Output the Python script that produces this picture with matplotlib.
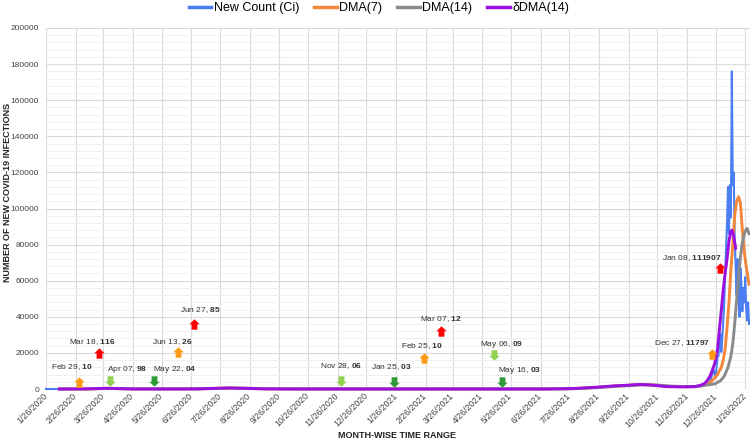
import matplotlib
matplotlib.use("Agg")
import matplotlib.pyplot as plt
from matplotlib.path import Path
from matplotlib.lines import Line2D
from matplotlib.ticker import MultipleLocator
import pandas as pd

plt.rcParams['font.family'] = ['Liberation Sans', 'DejaVu Sans']
plt.rcParams['mathtext.fontset'] = 'custom'
plt.rcParams['mathtext.rm'] = 'Liberation Sans'
plt.rcParams['mathtext.bf'] = 'Liberation Sans:bold'

# ---- data ----
# New Count (Ci)
count_dates = ['2020-01-26', '2020-02-15', '2020-02-29', '2020-03-10', '2020-03-18', '2020-03-25',
               '2020-03-28', '2020-04-02', '2020-04-07', '2020-04-20', '2020-05-22', '2020-06-13',
               '2020-06-27', '2020-07-10', '2020-07-25', '2020-08-05', '2020-08-15', '2020-08-30',
               '2020-09-15', '2020-10-15', '2020-11-28', '2020-12-20', '2021-01-25', '2021-02-25',
               '2021-03-07', '2021-05-06', '2021-05-16', '2021-06-30', '2021-07-15', '2021-08-01',
               '2021-08-24', '2021-09-10', '2021-09-25', '2021-10-08', '2021-10-20', '2021-11-07',
               '2021-11-20', '2021-12-04', '2021-12-08', '2021-12-12', '2021-12-14', '2021-12-16',
               '2021-12-18', '2021-12-19', '2021-12-20', '2021-12-21', '2021-12-22', '2021-12-23',
               '2021-12-24', '2021-12-25', '2021-12-26', '2021-12-27', '2021-12-28', '2021-12-29',
               '2021-12-30', '2021-12-31', '2022-01-01', '2022-01-02', '2022-01-03', '2022-01-04',
               '2022-01-05', '2022-01-06', '2022-01-07', '2022-01-08', '2022-01-09', '2022-01-10',
               '2022-01-11', '2022-01-12', '2022-01-13', '2022-01-14', '2022-01-15', '2022-01-16',
               '2022-01-17', '2022-01-18', '2022-01-19', '2022-01-20', '2022-01-21', '2022-01-22',
               '2022-01-23', '2022-01-24', '2022-01-25', '2022-01-26', '2022-01-27', '2022-01-28',
               '2022-01-29', '2022-01-30']
count_vals = [0, 0, 10, 40, 116, 400,
              460, 300, 98, 20, 4, 26,
              85, 200, 450, 680, 400, 150,
              40, 15, 6, 20, 3, 10,
              12, 9, 3, 30, 100, 300,
              1000, 1700, 2100, 2600, 2200, 1300,
              1200, 1300, 1700, 2200, 2600, 3400,
              4300, 4100, 3600, 5700, 7200, 8900,
              10500, 8400, 6800, 11797, 17800, 18200,
              27000, 30500, 20500, 28000, 37000, 47000,
              64000, 78000, 92000, 111907, 86000, 113000,
              95000, 176000, 113000, 120000, 83000, 69000,
              52000, 72000, 58000, 40000, 67000, 58000,
              43000, 56000, 48000, 62000, 45000, 38000,
              48000, 36000]

# DMA(7)
dma7_dates = ['2020-02-09', '2020-03-01', '2020-03-15', '2020-03-25', '2020-04-01', '2020-04-10',
              '2020-04-25', '2020-06-01', '2020-07-01', '2020-07-20', '2020-08-05', '2020-08-20',
              '2020-09-10', '2020-10-15', '2021-01-01', '2021-06-30', '2021-07-20', '2021-08-01',
              '2021-08-24', '2021-09-10', '2021-09-25', '2021-10-10', '2021-10-22', '2021-11-08',
              '2021-11-22', '2021-12-04', '2021-12-10', '2021-12-15', '2021-12-20', '2021-12-24',
              '2021-12-28', '2022-01-01', '2022-01-03', '2022-01-05', '2022-01-07', '2022-01-09',
              '2022-01-11', '2022-01-13', '2022-01-15', '2022-01-17', '2022-01-19', '2022-01-21',
              '2022-01-23', '2022-01-25', '2022-01-27', '2022-01-30']
dma7_vals = [0, 5, 60, 300, 380, 150,
             20, 10, 60, 350, 580, 350,
             60, 15, 15, 20, 120, 250,
             900, 1600, 2000, 2450, 2150, 1400,
             1250, 1350, 1700, 2400, 3500, 5500,
             8000, 12000, 16000, 22000, 34000, 48000,
             66000, 80000, 96000, 104000, 106500, 103000,
             88000, 76000, 68000, 58000]

# DMA(14)
dma14_dates = ['2020-02-09', '2020-03-10', '2020-03-25', '2020-04-05', '2020-04-15', '2020-05-01',
               '2020-07-01', '2020-07-25', '2020-08-10', '2020-08-25', '2020-09-15', '2020-10-20',
               '2021-06-30', '2021-07-25', '2021-08-05', '2021-08-28', '2021-09-14', '2021-09-30',
               '2021-10-12', '2021-10-26', '2021-11-10', '2021-11-25', '2021-12-06', '2021-12-15',
               '2021-12-25', '2021-12-31', '2022-01-04', '2022-01-08', '2022-01-11', '2022-01-13',
               '2022-01-15', '2022-01-17', '2022-01-19', '2022-01-21', '2022-01-23', '2022-01-25',
               '2022-01-27', '2022-01-28', '2022-01-30']
dma14_vals = [0, 20, 200, 330, 200, 40,
              40, 300, 520, 400, 120, 20,
              20, 100, 250, 850, 1500, 1950,
              2350, 2200, 1600, 1300, 1300, 2000,
              2800, 4500, 7000, 12000, 18000, 25000,
              36000, 49000, 62000, 73000, 81000, 86000,
              88500, 89000, 86000]

# δDMA(14)
ddma14_dates = ['2020-02-09', '2020-03-05', '2020-03-20', '2020-03-30', '2020-04-10', '2020-04-25',
                '2020-07-01', '2020-07-20', '2020-08-03', '2020-08-20', '2020-09-10', '2020-10-15',
                '2021-06-30', '2021-07-20', '2021-08-01', '2021-08-24', '2021-09-10', '2021-09-25',
                '2021-10-06', '2021-10-20', '2021-11-05', '2021-11-20', '2021-12-04', '2021-12-10',
                '2021-12-14', '2021-12-17', '2021-12-20', '2021-12-22', '2021-12-25', '2021-12-28',
                '2021-12-31', '2022-01-03', '2022-01-05', '2022-01-07', '2022-01-09', '2022-01-11',
                '2022-01-12', '2022-01-13', '2022-01-14', '2022-01-16']
ddma14_vals = [0, 30, 250, 400, 250, 30,
               50, 350, 560, 380, 80, 15,
               20, 150, 300, 1000, 1700, 2100,
               2500, 2200, 1300, 1200, 1300, 2000,
               2900, 4500, 7000, 9500, 14000, 22000,
               38000, 55000, 64000, 72000, 82000, 87500,
               88000, 87000, 84500, 78000]

# annotations: label date, value, arrow date, arrow height, direction, colour
note_labels = ['Feb 29', 'Mar 18', 'Apr 07', 'May 22', 'Jun 13', 'Jun 27', 'Nov 28',
               'Jan 25', 'Feb 25', 'Mar 07', 'May 06', 'May 16', 'Dec 27', 'Jan 08']
note_values = ['10', '116', '98', '04', '26', '85', '06',
               '03', '10', '12', '09', '03', '11797', '111907']
note_kinds = ['orange', 'red', 'lgreen', 'dgreen', 'orange', 'red', 'lgreen',
              'dgreen', 'orange', 'red', 'lgreen', 'dgreen', 'orange', 'red']
note_dirs = ['up', 'up', 'down', 'down', 'up', 'up', 'down',
             'down', 'up', 'up', 'down', 'down', 'up', 'up']

# arrow anchor (date, y) and text offset in px -- layout only
note_at = [('2020-03-01', 3800), ('2020-03-21', 19900), ('2020-04-02', 4400), ('2020-05-18', 4400),
           ('2020-06-12', 20500), ('2020-06-29', 36000), ('2020-11-29', 4400), ('2021-01-24', 3900),
           ('2021-02-24', 17000), ('2021-03-14', 32000), ('2021-05-08', 19000), ('2021-05-17', 3900),
           ('2021-12-22', 19400), ('2021-12-31', 67000)]
note_off = [(-8, 15), (-6, 11), (17, 12), (21, 12), (-6, 10), (6, 14), (0, 15),
            (-3, 15), (-2, 12), (0, 12), (8, 10), (17, 11), (-30, 11), (-29, 10)]

arrow_colors = {'orange': '#FF9A16', 'red': '#FF0000', 'lgreen': '#92D050', 'dgreen': '#2E9B36'}

# ---- figure ----
W, H = 750, 441
fig = plt.figure(figsize=(7.5, 4.41), dpi=100)
ax = fig.add_axes([46 / W, 1 - 389 / H, (750 - 46) / W, (389 - 28) / H])

c_blue, c_orange, c_gray, c_purple = '#4A7EF2', '#F5873A', '#8A8A8A', '#9B0FE0'

ax.plot(pd.to_datetime(count_dates), count_vals, color=c_blue, lw=1.5, clip_on=False, zorder=3)
ax.plot(pd.to_datetime(dma7_dates), dma7_vals, color=c_orange, lw=2.1, clip_on=False, zorder=3)
ax.plot(pd.to_datetime(dma14_dates), dma14_vals, color=c_gray, lw=2.1, clip_on=False, zorder=3)
ax.plot(pd.to_datetime(ddma14_dates), ddma14_vals, color=c_purple, lw=2.1, clip_on=False, zorder=3)

# block arrow markers
up = Path([(-0.28, -0.5), (0.28, -0.5), (0.28, 0.02), (0.5, 0.02), (0, 0.5),
           (-0.5, 0.02), (-0.28, 0.02), (-0.28, -0.5)], closed=True)
down = Path([(x, -y) for x, y in up.vertices], closed=True)

for i in range(len(note_labels)):
    d = pd.Timestamp(note_at[i][0])
    y = note_at[i][1]
    mk = up if note_dirs[i] == 'up' else down
    ax.plot([d], [y], marker=mk, ms=7.5, color=arrow_colors[note_kinds[i]],
            mec='none', zorder=5, clip_on=False)
    ax.annotate(note_labels[i] + ', $\\mathbf{' + note_values[i] + '}$', xy=(d, y),
                xytext=(note_off[i][0] * 0.72, note_off[i][1] * 0.72), textcoords='offset points',
                ha='center', va='center', fontsize=6, color='#333333', zorder=6)

# axes styling
ticks = pd.date_range('2020-01-26', periods=25, freq=pd.DateOffset(months=1))
ax.set_xticks(ticks)
ax.set_xticklabels([f'{t.month}/{t.day}/{t.year}' for t in ticks], rotation=45,
                   ha='right', va='center', rotation_mode='anchor', fontsize=6.3, color='#444444')
ax.set_xlim(pd.Timestamp('2020-01-26'), pd.Timestamp('2022-01-31'))
ax.set_ylim(0, 200000)
ax.yaxis.set_major_locator(MultipleLocator(20000))
ax.yaxis.set_minor_locator(MultipleLocator(4000))
ax.set_yticklabels([f'{int(v)}' for v in ax.get_yticks()], fontsize=6, color='#444444')
ax.tick_params(which='both', length=0)
ax.tick_params(axis='x', pad=4)
ax.tick_params(axis='y', pad=5)
ax.grid(which='major', color='#DADADA', lw=0.8)
ax.grid(which='minor', axis='y', color='#F0F0F0', lw=0.7)
ax.set_axisbelow(True)
for s in ax.spines.values():
    s.set_visible(False)

fig.text(8 / W, 1 - 192 / H, 'NUMBER OF NEW COVID-19 INFECTIONS', rotation=90,
         ha='center', va='center', fontsize=6.5, fontweight='bold', color='#222222')
fig.text(397 / W, 1 - 436 / H, 'MONTH-WISE TIME RANGE', ha='center', va='center',
         fontsize=6.5, fontweight='bold', color='#222222')

handles = [Line2D([], [], color=c, lw=2.5) for c in (c_blue, c_orange, c_gray, c_purple)]
fig.legend(handles, ['New Count (Ci)', 'DMA(7)', 'DMA(14)', 'δDMA(14)'], loc='center',
           bbox_to_anchor=(379 / W, 1 - 8 / H), ncol=4, frameon=False, fontsize=9,
           handlelength=1.8, handletextpad=0.2, columnspacing=1.2, borderaxespad=0)

fig.savefig('out.png', dpi=100)
